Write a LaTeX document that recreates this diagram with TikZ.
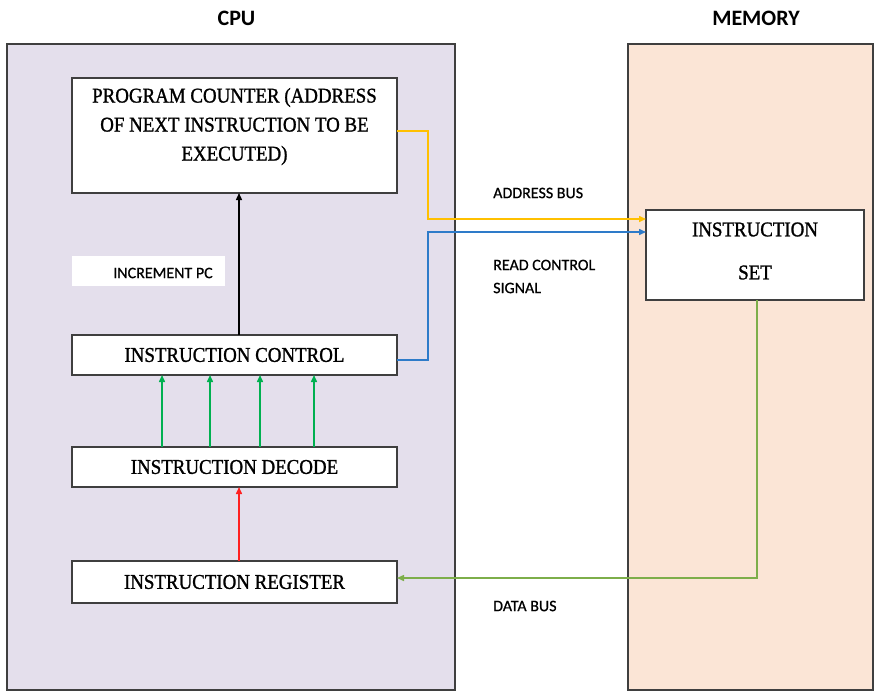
\documentclass[tikz,border=0pt]{standalone}
\usepackage{fontspec}
\setmainfont{Liberation Serif}
\newfontfamily\boxfont[FakeStretch=0.9,FakeBold=1.2]{Liberation Serif}
\newfontfamily\labfont{Carlito}
\newfontfamily\busfont[FakeBold=0.7]{Carlito}
\usetikzlibrary{arrows.meta}
\definecolor{cpufill}{HTML}{E4DFEC}
\definecolor{memfill}{HTML}{FBE5D6}
\definecolor{edge}{HTML}{3F3F3F}
\definecolor{addrcol}{HTML}{FFC000}
\definecolor{ctrlcol}{HTML}{2E7BC9}
\definecolor{deccol}{HTML}{00B050}
\definecolor{regcol}{HTML}{FF2020}
\definecolor{datacol}{HTML}{7DAE4A}
\tikzset{
  unit/.style={draw=edge, line width=1.8pt, inner sep=0pt, outer sep=0pt},
  stage/.style={draw=edge, line width=1.6pt, fill=white, inner sep=0pt, outer sep=0pt,
    minimum width=325pt, align=center,
    font=\boxfont\fontsize{21}{29}\selectfont},
  stagetext/.style={inner sep=0pt, align=center, font=\boxfont\fontsize{21}{29}\selectfont},
  title/.style={font=\labfont\bfseries\fontsize{22}{26}\selectfont},
  buslabel/.style={font=\busfont\fontsize{16}{23}\selectfont, align=left, inner sep=0pt},
  flow/.style={line width=1.5pt, -{Triangle[length=7pt,width=6pt]}}
}
\begin{document}
\begin{tikzpicture}[x=1pt,y=-1pt]
  % canvas
  \fill[white] (0,0) rectangle (874,691);
  \useasboundingbox (0,0) rectangle (874,691);

  % the two units
  \node[unit, fill=cpufill, minimum width=448pt, minimum height=646pt] (cpu) at (231,367) {};
  \node[unit, fill=memfill, minimum width=245pt, minimum height=646pt] (mem) at (750.5,367) {};
  \node[title] (cputitle) at (236.5,18) {CPU};
  \node[title] (memtitle) at (756,18) {MEMORY};

  % CPU stages
  \node[stage, minimum height=115pt] (pc) at (234.5,135.5) {};
  \node[stagetext] (pctext) at ([yshift=9pt]pc.center)
    {PROGRAM COUNTER (ADDRESS\\OF NEXT INSTRUCTION TO BE\\EXECUTED)};
  \node[fill=white, minimum width=153pt, minimum height=30pt, inner sep=0pt] (incbox) at (148.5,271) {};
  \node[buslabel] (inc) at ([xshift=14.5pt,yshift=-2pt]incbox.center) {INCREMENT PC};
  \node[stage, minimum height=40pt] (ictl) at (234.5,355) {INSTRUCTION CONTROL};
  \node[stage, minimum height=40pt] (idec) at (234.5,467) {INSTRUCTION DECODE};
  \node[stage, minimum height=42pt] (ireg) at (234.5,582) {INSTRUCTION REGISTER};

  % memory content
  \node[stage, minimum width=218pt, minimum height=90pt] (iset) at (755,255) {};
  \node[stagetext, font=\boxfont\fontsize{21}{43}\selectfont] (isettext)
    at ([yshift=4pt]iset.center) {INSTRUCTION\\SET};

  % internal CPU flow
  \draw[flow, black, line width=1.4pt] ([xshift=4.5pt]ictl.north) -- ([xshift=4.5pt]pc.south);
  \foreach \dx in {-72.5,-24.5,25.5,79.5}
    \draw[flow, deccol] ([xshift=\dx pt]idec.north) -- ([xshift=\dx pt]ictl.south);
  \draw[flow, regcol] ([xshift=4.5pt]ireg.north) -- ([xshift=4.5pt]idec.south);

  % buses between CPU and memory
  \draw[flow, addrcol] ([yshift=4.5pt]pc.east) -- ++(31,0) |- ([yshift=36pt]iset.west);
  \draw[flow, ctrlcol] ([yshift=-5pt]ictl.east) -- ++(31,0) |- ([yshift=23pt]iset.west);
  \draw[flow, datacol] ([xshift=2pt]iset.south) |- ([yshift=4pt]ireg.east);

  % bus labels
  \node[buslabel, anchor=west] (addrlab) at (493,193) {ADDRESS BUS};
  \node[buslabel, anchor=west] (ctrllab) at (493,276.5) {READ CONTROL\\SIGNAL};
  \node[buslabel, anchor=west] (datalab) at (493,606) {DATA BUS};
\end{tikzpicture}
\end{document}
